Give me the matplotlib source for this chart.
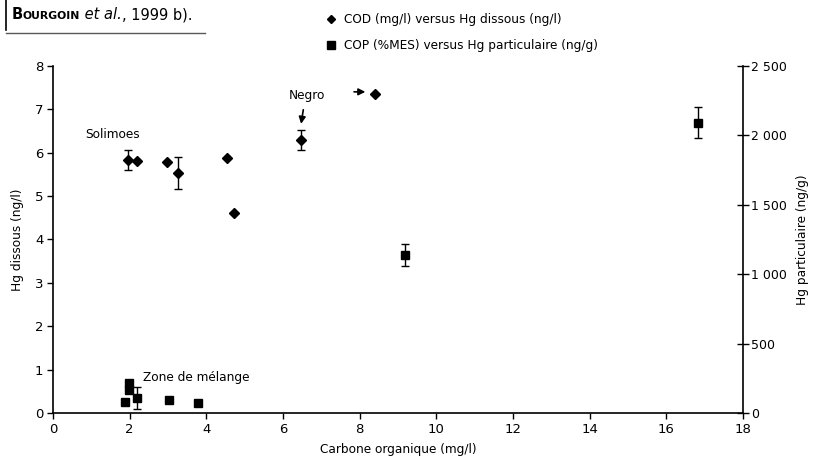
import matplotlib
matplotlib.use("Agg")
import matplotlib.pyplot as plt
from matplotlib.lines import Line2D

plt.rcParams['font.family'] = ['Liberation Sans Narrow', 'DejaVu Sans']
plt.rcParams['font.size'] = 8.7

# COD (mg/l) versus Hg dissous (ng/l)
cod_x = [1.96, 2.2, 2.97, 3.25, 4.53, 4.71, 6.47, 8.41]
cod_y = [5.82, 5.8, 5.78, 5.52, 5.87, 4.6, 6.28, 7.36]
cod_err = [0.23, 0, 0, 0.37, 0, 0, 0.23, 0]

# COP (%MES) versus Hg particulaire (ng/g)
cop_x = [1.88, 1.97, 1.97, 2.19, 3.02, 3.78, 9.17, 16.83]
cop_y = [82, 165, 215, 106, 94, 70, 1140, 2090]
cop_err = [0, 0, 0, 80, 18, 18, 80, 110]

xticks = [0, 2, 4, 6, 8, 10, 12, 14, 16, 18]
left_ticks = [0, 1, 2, 3, 4, 5, 6, 7, 8]
right_ticks = [0, 500, 1000, 1500, 2000, 2500]
right_labels = ['0', '500', '1 000', '1 500', '2 000', '2 500']

fig = plt.figure(figsize=(8.13, 4.58), dpi=100)
ax = fig.add_axes([0.0652, 0.0983, 0.8488, 0.758])
ax2 = ax.twinx()

ax.set_xlim(0, 18)
ax.set_ylim(0, 8)
ax2.set_ylim(0, 2500)

ax.errorbar(cod_x, cod_y, yerr=cod_err, fmt='D', color='black', markersize=5,
            capsize=3, elinewidth=1, capthick=1, zorder=3)
ax2.errorbar(cop_x, cop_y, yerr=cop_err, fmt='s', color='black', markersize=6,
             capsize=3, elinewidth=1, capthick=1, zorder=3)

for a in (ax, ax2):
    a.spines['top'].set_visible(False)
ax.spines['right'].set_visible(False)
ax2.spines['left'].set_visible(False)
ax2.spines['bottom'].set_visible(False)
for s in ('left', 'bottom'):
    ax.spines[s].set_linewidth(1.2)
ax2.spines['right'].set_linewidth(1.2)

ax.set_xticks(xticks)
ax.set_yticks(left_ticks)
ax2.set_yticks(right_ticks)
ax2.set_yticklabels(right_labels)
ax.tick_params(axis='x', direction='out', length=4, width=1, pad=3, labelsize=9.5)
ax.tick_params(axis='y', direction='out', length=4, width=1, pad=3, labelsize=9.5)
ax2.tick_params(axis='y', direction='inout', length=8, width=1, pad=2, labelsize=9)

ax.set_xlabel('Carbone organique (mg/l)', labelpad=5)
ax.set_ylabel('Hg dissous (ng/l)', labelpad=8)
ax2.set_ylabel('Hg particulaire (ng/g)', labelpad=6)

ax.text(0.83, 6.42, 'Solimoes', ha='left', va='center')
ax.text(6.62, 7.32, 'Negro', ha='center', va='center')
ax.text(2.36, 0.82, 'Zone de mélange', ha='left', va='center')
ax.annotate('', xy=(6.46, 6.6), xytext=(6.54, 7.05),
            arrowprops=dict(arrowstyle='-|>', color='black', lw=1.2, mutation_scale=10))
ax.annotate('', xy=(8.22, 7.4), xytext=(7.78, 7.4),
            arrowprops=dict(arrowstyle='-|>', color='black', lw=1.2, mutation_scale=10))

handles = [Line2D([], [], marker='D', color='black', linestyle='none', markersize=4.5),
           Line2D([], [], marker='s', color='black', linestyle='none', markersize=5.5)]
fig.legend(handles, ['COD (mg/l) versus Hg dissous (ng/l)',
                     'COP (%MES) versus Hg particulaire (ng/g)'],
           loc='upper left', bbox_to_anchor=(0.385, 0.995), frameon=False,
           handletextpad=0.5, handlelength=1.2, labelspacing=1.05, fontsize=8.7)

# fragment of the caption box
fig.add_artist(Line2D([0.007, 0.007], [1.0, 0.935], color='black', lw=1.2,
                      transform=fig.transFigure))
fig.add_artist(Line2D([0.007, 0.252], [0.928, 0.928], color='0.35', lw=1.0,
                      transform=fig.transFigure))
t1 = fig.text(0.014, 0.958, 'B', fontsize=10.5, fontweight='bold', va='baseline')
t2 = fig.text(0, 0, 'OURGOIN', fontsize=7.8, fontweight='bold', va='baseline')
t3 = fig.text(0, 0, ' et al.', fontsize=10.5, style='italic', va='baseline')
t4 = fig.text(0, 0, ', 1999 b).', fontsize=10.5, va='baseline')
fig.canvas.draw()
r = fig.canvas.get_renderer()
prev = t1
for t in (t2, t3, t4):
    bb = prev.get_window_extent(r).transformed(fig.transFigure.inverted())
    t.set_position((bb.x1, 0.958))
    prev = t

fig.savefig('out.png', dpi=100)
